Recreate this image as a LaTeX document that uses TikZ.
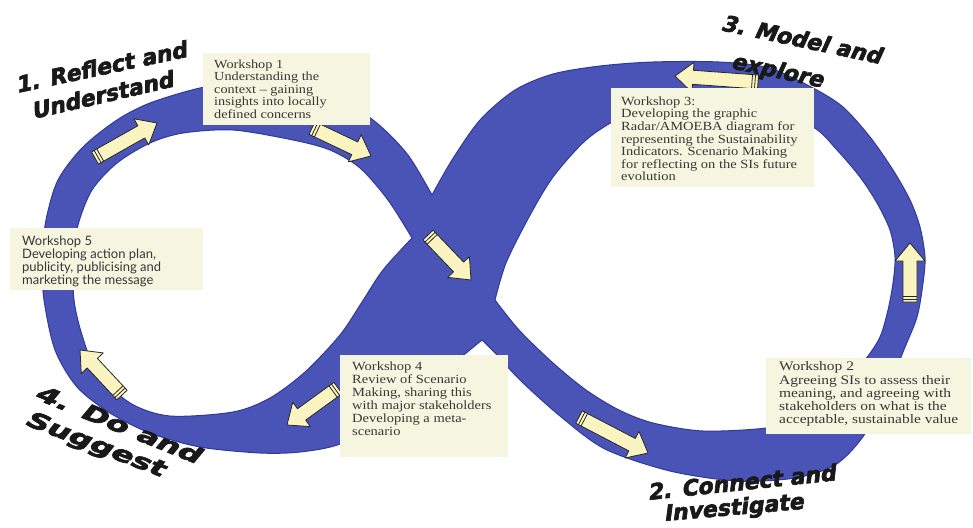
\documentclass[tikz,border=0pt]{standalone}
\usepackage{fontspec}
\usepackage{graphicx}
\usetikzlibrary{calc}
\newfontfamily\boxfont[FakeStretch=1.16]{Liberation Serif}
\newfontfamily\boxfontw[FakeStretch=1.19]{Liberation Serif}
\newfontfamily\sansbox{Lato}
\newfontfamily\stagefont[BoldFeatures={FakeSlant=0.22,FakeBold=3}]{DejaVu Sans}
\definecolor{bandblue}{RGB}{74,84,182}
\definecolor{bandedge}{RGB}{48,58,156}
\definecolor{boxcream}{RGB}{246,245,224}
\definecolor{arrowfill}{RGB}{250,245,192}
\definecolor{txtgray}{RGB}{55,55,55}
\tikzset{
  arrowbody/.style={fill=arrowfill,draw=black!85,line width=0.8pt,line join=round},
  arrowline/.style={draw=black!85,line width=0.8pt},
  wbox/.style={fill=boxcream,inner sep=0pt,anchor=north west},
  wtext/.style={anchor=north west,inner sep=0pt,align=left,text=txtgray},
  stage/.style={font=\stagefont\bfseries\fontsize{22}{22}\selectfont,text=black!90,inner sep=0pt,anchor=base west},
}
\newcommand{\flowarrow}[2]{%
  \coordinate (fa-hb) at ($(#2)!18pt!(#1)$);
  \coordinate (fa-s1) at ($(#1)!3pt!(#2)$);
  \coordinate (fa-s2) at ($(#1)!6pt!(#2)$);
  \filldraw[arrowbody] ($(#1)!7pt!90:(#2)$) -- ($(fa-hb)!7pt!90:(#2)$) -- ($(fa-hb)!15pt!90:(#2)$) -- (#2) -- ($(fa-hb)!15pt!-90:(#2)$) -- ($(fa-hb)!7pt!-90:(#2)$) -- ($(#1)!7pt!-90:(#2)$) -- cycle;
  \draw[arrowline] ($(fa-s1)!7pt!90:(#2)$) -- ($(fa-s1)!7pt!-90:(#2)$);
  \draw[arrowline] ($(fa-s2)!7pt!90:(#2)$) -- ($(fa-s2)!7pt!-90:(#2)$);
}
\begin{document}
\begin{tikzpicture}[x=1pt,y=-1pt]
\useasboundingbox (0,0) rectangle (973,527);
% the infinity band
\path[fill=bandblue,draw=bandedge,line width=1pt,even odd rule]
  plot[smooth] coordinates {(432,195) (452,160) (480,120) (515,90) (553,74) (600,66) (653,62) (719,62) (769,68) (813,88) (843,107) (870,137) (893,170) (910,200) (920,227) (925,257) (923,283) (917,317) (903,352) (885,398) (862,438) (835,465) (795,478) (737,481) (670,471) (605,449) (560,416) (520,380) (498,356) (482,340)}
  -- plot[smooth] coordinates {(482,340) (455,362) (420,390) (380,420) (340,444) (300,452) (260,453) (200,447) (150,433) (110,413) (77,387) (55,350) (44,300) (42,260) (46,220) (58,180) (83,147) (117,120) (150,103) (200,88) (245,82) (300,87) (345,102) (378,124) (408,155) (432,195)} -- cycle
  plot[smooth] coordinates {(412,238) (388,200) (360,168) (330,150) (293,140) (233,130) (183,133) (150,143) (117,163) (92,190) (78,225) (73,260) (74,300) (82,335) (97,372) (130,403) (170,416) (233,412) (270,398) (305,372) (340,335) (362,302) (383,270) (412,238)} -- cycle
  plot[smooth] coordinates {(495,300) (506,263) (529,217) (553,177) (586,140) (620,118) (660,105) (710,100) (762,107) (813,127) (837,150) (860,177) (877,203) (890,230) (895,257) (893,283) (888,310) (880,337) (865,360) (835,395) (800,418) (766,428) (703,431) (653,423) (619,410) (586,390) (553,363) (519,330) (495,300)} -- cycle;
% arrows
\coordinate (a1t) at (95,158);  \coordinate (a1h) at (157,123);
\coordinate (a2t) at (312,128); \coordinate (a2h) at (371,156);
\coordinate (a3t) at (428,235); \coordinate (a3h) at (471,280);
\coordinate (a4t) at (579,417); \coordinate (a4h) at (648,453);
\coordinate (a5t) at (910,302); \coordinate (a5h) at (910,243);
\coordinate (a6t) at (758,82);  \coordinate (a6h) at (675,76);
\coordinate (a7t) at (338,388); \coordinate (a7h) at (287,425);
\coordinate (a8t) at (122,395); \coordinate (a8h) at (80,350);
\flowarrow{a1t}{a1h}
\flowarrow{a2t}{a2h}
\flowarrow{a3t}{a3h}
\flowarrow{a4t}{a4h}
\flowarrow{a5t}{a5h}
\flowarrow{a6t}{a6h}
\flowarrow{a7t}{a7h}
\flowarrow{a8t}{a8h}
% workshop boxes
\node[wbox,minimum width=167pt,minimum height=72pt] (w1box) at (203,53) {};
\node[wtext,font=\boxfont\fontsize{12.3}{12.5}\selectfont] (w1text) at (214,59.5) {Workshop 1\\Understanding the\\context – gaining\\insights into locally\\defined concerns};
\node[wbox,minimum width=203pt,minimum height=99pt] (w3box) at (611,88) {};
\node[wtext,font=\boxfont\fontsize{12.5}{12.6}\selectfont] (w3text) at (621,96.5) {Workshop 3:\\Developing the graphic\\Radar/AMOEBA diagram for\\representing the Sustainability\\Indicators. Scenario Making\\for reflecting on the SIs future\\evolution};
\node[wbox,minimum width=193pt,minimum height=62pt] (w5box) at (10,228) {};
\node[wtext,font=\sansbox\fontsize{13}{11.8}\selectfont] (w5text) at (22,236) {Workshop 5\\Developing action plan,\\publicity, publicising and\\marketing the message};
\node[wbox,minimum width=168pt,minimum height=102pt] (w4box) at (340,355) {};
\node[wtext,font=\boxfont\fontsize{12.5}{13}\selectfont] (w4text) at (352,361.5) {Workshop 4\\Review of Scenario\\Making, sharing this\\with major stakeholders\\Developing a meta-\\scenario};
\node[wbox,minimum width=205pt,minimum height=76pt] (w2box) at (766,358) {};
\node[wtext,font=\boxfontw\fontsize{13}{13.3}\selectfont] (w2text) at (779,361.5) {Workshop 2\\Agreeing SIs to assess their\\meaning, and agreeing with\\stakeholders on what is the\\acceptable, sustainable value};
% stage labels
\node[stage,rotate=12] (s1a) at (17,93) {1. Reflect and};
\node[stage,rotate=13] (s1b) at (33,119) {Understand};
\node[stage,rotate=-12] (s3a) at (720,30) {3. Model and};
\node[stage,rotate=-12] (s3b) at (730,68) {explore};
\node[stage,rotate=6] (s2a) at (648,500) {2. Connect and};
\node[stage,rotate=5] (s2b) at (664,521) {Investigate};
\node[stage,rotate=-22] (s4a) at (33,398) {\scalebox{1.45}[1]{4. Do and}};
\node[stage,rotate=-21] (s4b) at (23,424) {\scalebox{1.45}[1]{Suggest}};
\end{tikzpicture}
\end{document}
